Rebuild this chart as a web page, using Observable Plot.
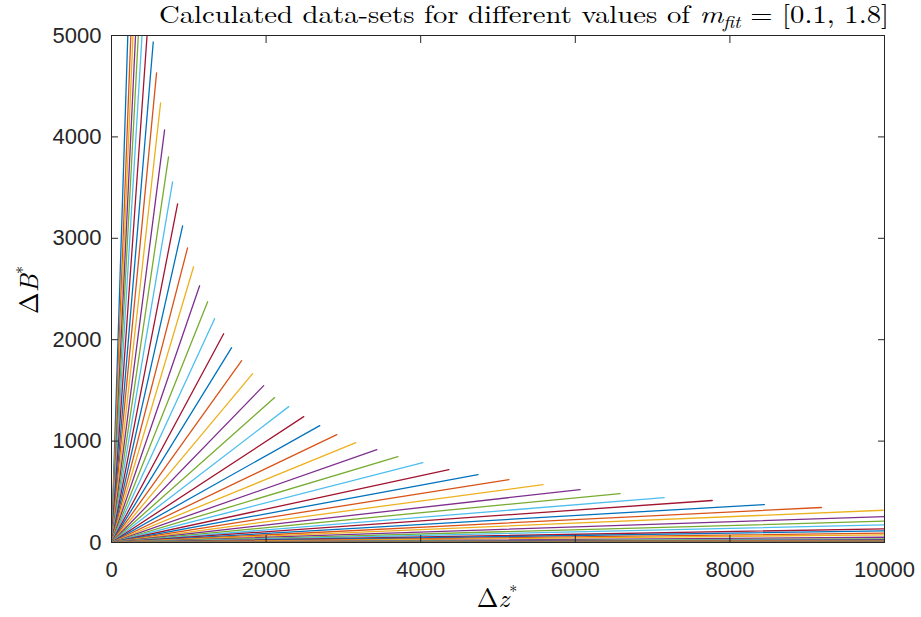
<!DOCTYPE html>
<html><head><meta charset="utf-8">
<script src="https://cdn.jsdelivr.net/npm/d3@7"></script>
<script src="https://cdn.jsdelivr.net/npm/@observablehq/plot@0.6"></script>
<style>body{margin:0;background:#fff}svg{display:block}</style>
</head><body><div id="chart"></div>
<script>
// End points of each calculated data-set (each starts at the origin)
const endZ = [211,250,278,311,347,395,460,
  540,583,635,687,738,790,855,920,984,1062,1140,1244,1334,1451,1554,1684,1826,1969,2111,2293,2487,2694,2915,3161,3433,3705,4028,4365,4741,5142,5583,6062,6580,7150,7772,8446,9184,9983,
  10000,10000,10000,10000,10000,10000,10000,10000,10000,
  10000,10000,10000,10000,10000,10000,10000,10000,10000,10000,10000,10000,10000,10000,10000,
  10000,10000,10000,10000,10000,10000];
const endB = [5000,5000,5000,5000,5000,5000,5000,
  4936,4631,4335,4069,3803,3557,3340,3123,2906,2719,2532,2374,2207,2059,1921,1793,1665,1547,1429,1340,1241,1153,1064,985,916,847,788,719,670,621,571,522,483,443,414,374,345,318,
  256,210,174,135,115,92,76,52,36,
  30,25,21,18,15,13,11,9.5,8,6.5,5.5,4.5,3.5,2.8,2.2,
  1.7,1.3,1,0.7,0.5,0.3];
const xTicks = [0,2000,4000,6000,8000,10000];
const yTicks = [0,1000,2000,3000,4000,5000];
const lineColors = ["#0072BD","#D95319","#EDB120","#7E2F8E","#77AC30","#4DBEEE","#A2142F"];

const rows = [];
endZ.forEach((z, i) => {
  rows.push({set: i, z: 0, b: 0});
  rows.push({set: i, z, b: endB[i]});
});

const axisColor = "#262626";
const tickFont = {fontSize: 22, fontFamily: "Liberation Sans, Arial, sans-serif", fill: axisColor};

const plot = Plot.plot({
  width: 921, height: 617,
  marginTop: 35, marginRight: 37, marginBottom: 75, marginLeft: 111,
  style: {fontFamily: "Liberation Sans, Arial, sans-serif", background: "#fff"},
  x: {domain: [0, 10000]},
  y: {domain: [0, 5000]},
  color: {type: "ordinal", domain: d3.range(endZ.length), range: lineColors},
  marks: [
    Plot.line(rows, {x: "z", y: "b", z: "set", stroke: "set", strokeWidth: 1.3, clip: true}),
    Plot.frame({stroke: axisColor, strokeWidth: 1}),
    Plot.axisX({ticks: xTicks, tickSize: -7, tickPadding: 26, tickFormat: d3.format("d"), label: null, stroke: axisColor, ...tickFont}),
    Plot.axisX({anchor: "top", ticks: xTicks, tickSize: -7, tickFormat: () => "", label: null, stroke: axisColor}),
    Plot.axisY({ticks: yTicks, tickSize: -7, tickPadding: 17, tickFormat: d3.format("d"), label: null, stroke: axisColor, ...tickFont}),
    Plot.axisY({anchor: "right", ticks: yTicks, tickSize: -7, tickFormat: () => "", label: null, stroke: axisColor})
  ]
});
document.getElementById("chart").appendChild(plot);

const svg = d3.select(plot);
const serif = "Latin Modern Roman, CMU Serif, Liberation Serif, DejaVu Serif, serif";
const title = svg.append("text")
  .attr("x", 159).attr("y", 23).attr("text-anchor", "start")
  .attr("font-family", serif).attr("font-size", 25).attr("fill", "#000")
  .attr("textLength", 730).attr("lengthAdjust", "spacingAndGlyphs");
title.append("tspan").text("Calculated data-sets for different values of ");
title.append("tspan").attr("font-style", "italic").text("m");
title.append("tspan").attr("font-style", "italic").attr("font-size", 17).attr("dy", 5).text("fit");
title.append("tspan").attr("dy", -5).text(" = [0.1, 1.8]");

const xl = svg.append("text").attr("x", 497).attr("y", 607).attr("text-anchor", "middle")
  .attr("font-family", serif).attr("font-size", 26).attr("fill", "#000");
xl.append("tspan").text("Δ");
xl.append("tspan").attr("font-style", "italic").text("z");
xl.append("tspan").attr("font-size", 16).attr("dy", -10).text("*");

const yl = svg.append("text").attr("transform", "translate(38,290) rotate(-90)").attr("text-anchor", "middle")
  .attr("font-family", serif).attr("font-size", 26).attr("fill", "#000");
yl.append("tspan").text("Δ");
yl.append("tspan").attr("font-style", "italic").text("B");
yl.append("tspan").attr("font-size", 16).attr("dy", -10).text("*");
</script>
</body></html>
